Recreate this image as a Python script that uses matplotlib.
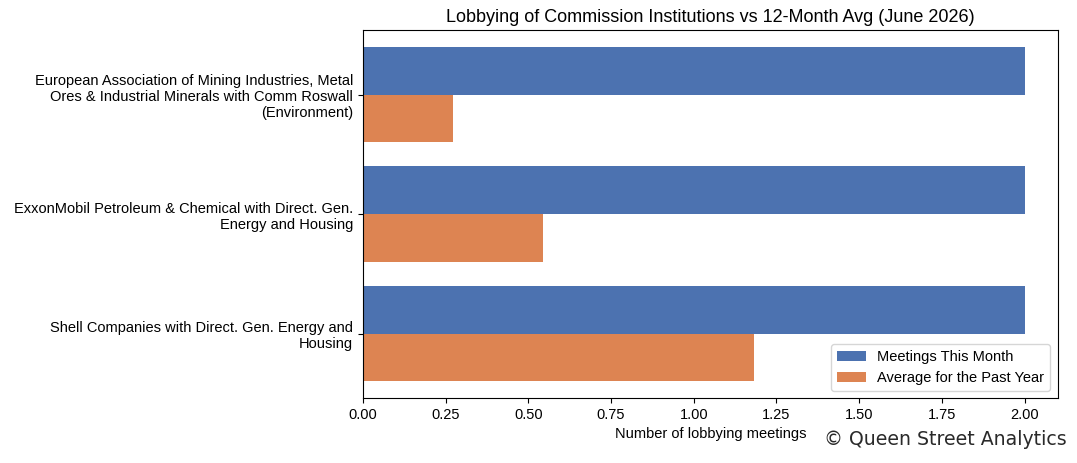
import numpy as np
import matplotlib.pyplot as plt

plt.rcParams['font.family'] = ['Liberation Sans', 'DejaVu Sans']

labels = ["European Association of Mining Industries, Metal\nOres & Industrial Minerals with Comm Roswall\n(Environment)",
          "ExxonMobil Petroleum & Chemical with Direct. Gen.\nEnergy and Housing",
          "Shell Companies with Direct. Gen. Energy and\nHousing"]
this_month = [2, 2, 2]
past_year = [0.273, 0.545, 1.182]

fig, ax = plt.subplots(figsize=(10.77, 4.63), dpi=100)
fig.subplots_adjust(left=0.337, right=0.982, top=0.935, bottom=0.14)

y = np.arange(len(labels))
h = 0.4
ax.barh(y - h/2, this_month, height=h, color='#4C72B0', label='Meetings This Month')
ax.barh(y + h/2, past_year, height=h, color='#DD8452', label='Average for the Past Year')
ax.set_yticks(y)
ax.set_yticklabels(labels, fontsize=10.5)
ax.invert_yaxis()
ticks = np.arange(0, 2.01, 0.25)
ax.set_xticks(ticks)
ax.set_xticklabels(['%.2f' % v for v in ticks], fontsize=10.5)
ax.set_xlabel('Number of lobbying meetings', fontsize=10.5)
ax.set_title('Lobbying of Commission Institutions vs 12-Month Avg (June 2026)', fontsize=13)
ax.legend(loc='lower right', fontsize=10.5)

fig.text(0.99, 0.03, '\u00a9 Queen Street Analytics', ha='right', va='bottom',
         fontsize=13.6, color='#2a2a2a', family=['DejaVu Sans'])

fig.savefig('out.png', dpi=100)
